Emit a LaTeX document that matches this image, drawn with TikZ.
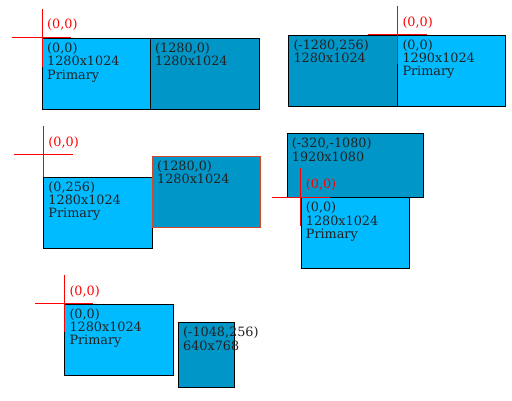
\documentclass[tikz,border=0pt]{standalone}
\usepackage{fontspec}
\setmainfont{DejaVu Serif}
\definecolor{prim}{RGB}{0,187,255}
\definecolor{sec}{RGB}{0,150,200}
\definecolor{hot}{RGB}{205,75,45}
\definecolor{ink}{RGB}{34,34,34}
\begin{document}
\begin{tikzpicture}[x=1pt,y=-1pt,
  mon/.style 2 args={draw=black, line width=1pt, anchor=north west, inner sep=0pt,
     minimum width=#1pt, minimum height=#2pt},
  primbox/.style 2 args={mon={#1}{#2}, fill=prim},
  secbox/.style 2 args={mon={#1}{#2}, fill=sec},
  txt/.style={anchor=base west, inner sep=0pt, align=left, text=ink,
     font=\fontsize{12.8}{13.3}\selectfont},
  txttwo/.style={txt, yshift=-13.3pt},
  txtthree/.style={txt, yshift=-26.6pt},
  org/.style={anchor=base west, inner sep=0pt, text=red,
     font=\fontsize{12.8}{13.3}\selectfont},
  cross/.style={draw=red, line width=1pt}]
\path[use as bounding box] (0,0) rectangle (512,401);

% ---- panel 1
\node[primbox={108}{71}] (p1) at (42,38) {};
\node[secbox={109}{71}] (s1) at (150,38) {};
\node[txtthree] (tp1) at ([shift={(5,14.5)}]p1.north west) {(0,0)\\1280x1024\\Primary};
\node[txttwo] (ts1) at ([shift={(5,14.5)}]s1.north west) {(1280,0)\\1280x1024};
\coordinate (c1) at (42,38);
\draw[cross] ([shift={(-30,0)}]c1) -- ([shift={(29,0)}]c1);
\draw[cross] ([shift={(0,-29)}]c1) -- ([shift={(0,29)}]c1);
\node[org] (o1) at ([shift={(5,-9)}]c1) {(0,0)};

% ---- panel 2
\node[secbox={109}{71.5}] (s2) at (288.3,34.7) {};
\node[primbox={107.7}{71.5}] (p2) at (397.3,34.7) {};
\node[txttwo] (ts2) at ([shift={(5,14.5)}]s2.north west) {(-1280,256)\\1280x1024};
\node[txtthree] (tp2) at ([shift={(5,14.5)}]p2.north west) {(0,0)\\1290x1024\\Primary};
\coordinate (c2) at (397.3,34.7);
\draw[cross] ([shift={(-29.6,0)}]c2) -- ([shift={(29.4,0)}]c2);
\draw[cross] ([shift={(0,-29)}]c2) -- ([shift={(0,29)}]c2);
\node[org] (o2) at ([shift={(5,-8.5)}]c2) {(0,0)};

% ---- panel 3
\coordinate (c3) at (43.3,155);
\draw[cross] ([shift={(-29,0)}]c3) -- ([shift={(29.4,0)}]c3);
\draw[cross] ([shift={(0,-29)}]c3) -- ([shift={(0,22)}]c3);
\node[org] (o3) at ([shift={(5,-8.5)}]c3) {(0,0)};
\node[primbox={108.7}{71}] (p3) at (43.3,176.7) {};
\node[secbox={108.3}{71}, draw=hot] (s3) at (152,155.7) {};
\node[txtthree] (tp3) at ([shift={(5,14.5)}]p3.north west) {(0,256)\\1280x1024\\Primary};
\node[txttwo] (ts3) at ([shift={(5,14.5)}]s3.north west) {(1280,0)\\1280x1024};

% ---- panel 4
\node[secbox={136.6}{64}] (s4) at (286.7,133.3) {};
\node[primbox={108.3}{70.4}] (p4) at (300.7,197.3) {};
\node[txttwo] (ts4) at ([shift={(5,14.5)}]s4.north west) {(-320,-1080)\\1920x1080};
\node[txtthree] (tp4) at ([shift={(5,14.5)}]p4.north west) {(0,0)\\1280x1024\\Primary};
\coordinate (c4) at (300.7,197.3);
\draw[cross] ([shift={(-29,0)}]c4) -- ([shift={(29.3,0)}]c4);
\draw[cross] ([shift={(0,-29)}]c4) -- ([shift={(0,28.7)}]c4);
\node[org] (o4) at ([shift={(5,-8.5)}]c4) {(0,0)};

% ---- panel 5
\node[primbox={108.7}{71.3}] (p5) at (64.3,303.7) {};
\node[secbox={55.7}{64.7}] (s5) at (178,322.3) {};
\node[txtthree] (tp5) at ([shift={(5,14.5)}]p5.north west) {(0,0)\\1280x1024\\Primary};
\node[txttwo] (ts5) at ([shift={(5,14.5)}]s5.north west) {(-1048,256)\\640x768};
\coordinate (c5) at (64.3,303.7);
\draw[cross] ([shift={(-29.3,0)}]c5) -- ([shift={(29,0)}]c5);
\draw[cross] ([shift={(0,-28.7)}]c5) -- ([shift={(0,28)}]c5);
\node[org] (o5) at ([shift={(5,-8.5)}]c5) {(0,0)};
\end{tikzpicture}
\end{document}
